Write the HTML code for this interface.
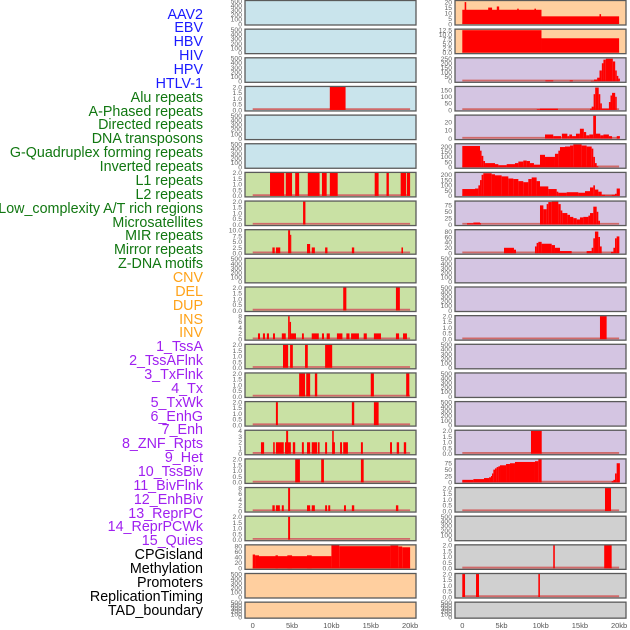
<!DOCTYPE html>
<html><head><meta charset="utf-8">
<style>
html,body{margin:0;padding:0;background:#fff;width:630px;height:630px;overflow:hidden}
#labels{position:absolute;left:0;top:0;width:203px}
.lb{position:absolute;right:0;font:14.3px "Liberation Sans",sans-serif;white-space:nowrap;line-height:14px}
svg{position:absolute;left:0;top:0}
</style></head>
<body>
<div id="labels"></div>
<svg id="chart" width="630" height="630"></svg>
<script>
const labelNames = ["AAV2","EBV","HBV","HIV","HPV","HTLV-1","Alu repeats","A-Phased repeats","Directed repeats","DNA transposons","G-Quadruplex forming repeats","Inverted repeats","L1 repeats","L2 repeats","Low_complexity A/T rich regions","Microsatellites","MIR repeats","Mirror repeats","Z-DNA motifs","CNV","DEL","DUP","INS","INV","1_TssA","2_TssAFlnk","3_TxFlnk","4_Tx","5_TxWk","6_EnhG","7_Enh","8_ZNF_Rpts","9_Het","10_TssBiv","11_BivFlnk","12_EnhBiv","13_ReprPC","14_ReprPCWk","15_Quies","CPGisland","Methylation","Promoters","ReplicationTiming","TAD_boundary"];
const labelGroups = [0,0,0,0,0,0,1,1,1,1,1,1,1,1,1,1,1,1,1,2,2,2,2,2,3,3,3,3,3,3,3,3,3,3,3,3,3,3,3,4,4,4,4,4];
const groupColors = ["#1a1aff","#117711","#ffa31a","#a020f0","#000000"];
const xTicks = [0,5,10,15,20];
const xTickLabels = ["0","5kb","10kb","15kb","20kb"];
const emptyTicks = [0,100,200,300,400,500];
const ticks2 = [0,0.5,1,1.5,2];

const l3Bars = [[9.8,11.8,2]];
const l6Bars = [[2.2,4.0,2],[4.2,5.0,2],[5.4,5.9,2],[7.0,8.5,2],[8.8,9.4,2],[9.8,10.8,2],[15.5,16.0,2],[17.0,17.3,2],[18.8,19.5,2],[19.6,20.0,2]];
const l7Bars = [[6.4,6.7,2]];
const l8Bars = [[2.5,2.8,2.5],[2.95,3.5,2.5],[4.5,4.75,10],[4.75,4.9,8],[6.9,7.3,4],[7.5,7.9,2.5],[9.2,9.5,2.5],[12.6,12.9,2.5],[18.9,19.1,2.5]];
const l10Bars = [[11.5,11.9,2],[18.2,18.7,2]];
const l11Bars = [[0.67,0.93,2],[1.3,1.56,2],[1.8,2.07,2],[2.58,2.83,2],[3.7,4.2,2],[4.5,4.7,8],[4.7,4.87,6],[4.87,5.5,2],[6.26,6.5,2],[7.5,8.4,2],[8.8,9.06,2],[9.4,9.8,2],[10.7,11.4,2],[11.9,12.3,2],[12.5,13.5,2],[14.1,14.5,2],[15.4,16.3,2],[18.2,18.6,2],[19.1,19.6,2]];
const l12Bars = [[3.85,4.5,2],[4.75,5.1,2],[6.65,7.0,2],[9.2,10.1,2]];
const l13Bars = [[5.9,6.65,2],[6.8,7.3,2],[7.9,8.2,2],[15.0,15.4,2],[19.5,19.9,2]];
const l14Bars = [[2.95,3.2,2],[12.6,12.9,2],[15.4,16.0,2]];
const l15Bars = [[1.05,1.45,2],[2.6,2.8,2],[2.95,3.95,2],[4.1,4.85,2],[4.25,4.5,4],[5.1,5.4,2],[6.25,6.5,2],[6.9,7.3,2],[7.5,8.2,2],[8.3,8.5,2],[9.2,9.45,2],[10.1,10.45,2],[10.1,10.3,4],[11.1,11.35,2],[11.5,12.1,2],[13.75,14.0,2],[17.45,17.7,2],[18.3,18.6,2],[19.2,19.5,2]];
const l16Bars = [[5.4,6.0,2],[8.7,9.05,2],[13.75,14.1,2]];
const l17Bars = [[2.5,2.8,2],[2.95,3.45,2],[3.7,3.95,2],[4.5,4.75,8],[6.9,7.3,2],[7.5,7.9,2],[9.2,9.45,2],[9.6,9.85,2],[11.6,11.85,2],[12.6,12.9,2],[18.2,18.5,2]];
const l18Bars = [[4.5,4.75,2]];
const l19Bars = [[0,0.3,50],[0.3,0.8,47],[0.8,10,44],[2.9,3.2,47],[4.4,5.0,47],[6.9,7.5,47],[10,11,83],[11,17.5,80],[17.5,18.5,82],[18.5,19,79],[19,20,76]];

const r0Bars = [[0,10.1,13],[0.3,0.5,20],[3.3,3.8,15],[4.4,4.7,16],[7.0,7.2,14],[9.2,9.4,14],[10.1,20,7],[17.5,17.7,9]];
const r1Bars = [[0,10.1,12.5],[10.1,20,8]];
const r2Bars = [[10.6,11.6,10],[13.7,14.1,10],[16.4,16.8,5],[16.8,17.2,20],[17.2,17.5,40],[17.5,17.8,120],[17.8,18.0,200],[18.0,18.3,240],[18.3,19.2,250],[19.2,19.5,220],[19.5,19.7,120],[19.7,19.9,60],[19.9,20.1,30]];
const r3Bars = [[9.5,9.9,5],[9.9,12.2,10],[16.3,16.5,10],[16.5,16.75,25],[16.75,16.95,120],[16.95,17.4,170],[17.4,17.6,120],[17.6,17.8,50],[17.8,18.7,10],[18.7,18.9,60],[18.9,19.1,110],[19.1,19.5,130],[19.5,19.7,100]];
const r4Bars = [[10.55,11.6,5],[11.6,12.6,3],[12.7,13.4,6],[13.4,13.65,3],[13.65,14.0,5],[14.0,14.5,3],[14.5,15.0,6],[15.0,15.5,12],[15.5,15.8,8],[15.8,16.2,4],[16.2,16.7,5],[16.7,17.05,28],[17.05,17.6,6],[17.6,18.0,4],[18.0,18.7,5],[18.7,19.1,3],[19.7,20.1,3]];
const r5Bars = [[0,2.26,205],[2.26,2.46,160],[2.46,2.68,110],[2.68,2.9,60],[2.9,4.17,40],[4.17,4.6,30],[4.6,5.66,20],[5.66,6.72,30],[6.72,7.15,40],[7.15,7.78,55],[7.78,8.21,65],[8.21,8.63,60],[8.63,9.14,40],[9.14,9.91,25],[9.91,10.55,120],[10.55,11.82,100],[11.82,12.25,130],[12.25,12.46,160],[12.46,13.1,195],[13.1,13.74,200],[13.74,14.16,210],[14.16,15.22,220],[15.22,15.86,210],[15.86,16.5,200],[16.5,16.71,180],[16.71,16.92,100],[16.92,17.14,40],[17.14,17.35,10]];
const r6Bars = [[0,1.62,65],[1.62,2.05,70],[2.05,2.26,100],[2.26,2.46,150],[2.46,2.68,200],[2.68,3.74,215],[3.74,4.17,205],[4.17,5.02,195],[5.02,5.87,185],[5.87,6.51,165],[6.51,7.15,160],[7.15,7.78,140],[7.78,8.42,130],[8.42,8.85,160],[8.85,9.48,175],[9.48,9.91,140],[9.91,10.97,90],[10.97,12.04,65],[12.04,12.25,40],[12.25,13.31,30],[13.31,14.8,35],[14.8,15.65,30],[15.65,16.29,45],[16.29,16.71,80],[16.71,16.92,100],[16.92,17.35,60],[17.35,17.78,40],[17.78,18.2,10],[18.2,19.05,5],[19.05,19.48,10],[19.48,19.69,20],[19.69,20.1,70]];
const r7Bars = [[0.6,1.41,5],[1.41,2.26,8],[2.26,2.34,5],[9.91,10.34,75],[10.34,10.76,60],[10.76,10.97,80],[10.97,11.4,88],[11.4,12.25,90],[12.25,12.55,80],[12.55,12.76,55],[12.76,13.4,45],[13.4,13.74,38],[13.74,14.16,30],[14.16,14.59,25],[14.59,15.01,20],[15.01,15.44,28],[15.44,16.08,30],[16.08,16.29,35],[16.29,16.71,45],[16.71,17.14,70],[17.14,17.35,50],[17.35,17.56,15]];
const r8Bars = [[5.32,6.59,20],[6.59,6.85,13],[9.27,9.48,25],[9.48,9.7,38],[9.7,10.12,42],[10.12,11.4,35],[11.4,11.82,30],[11.82,12.46,20],[12.46,13.95,8],[15.86,16.5,8],[16.5,16.71,20],[16.71,16.92,55],[16.92,17.35,80],[17.35,17.56,60],[17.56,17.78,25],[18.97,19.27,5],[19.27,19.48,20],[19.48,19.69,55],[19.69,20.03,62]];
const r11Bars = [[17.56,18.41,2]];
const r15Bars = [[8.76,10.13,2]];
const r16Bars = [[0,1.41,10],[1.41,2.77,13],[2.77,3.41,17],[3.41,3.66,20],[3.66,3.79,25],[3.79,3.96,35],[3.96,4.17,50],[4.17,4.38,55],[4.38,4.6,60],[4.6,4.81,63],[4.81,5.58,67],[5.58,6.08,72],[6.08,6.72,75],[6.72,9.27,80],[9.27,9.7,83],[9.7,10.12,90],[19.05,19.27,5],[19.27,19.48,10],[19.48,19.69,35],[19.69,20.1,75]];
const r17Bars = [[18.2,18.97,2]];
const r19Bars = [[11.6,11.8,2],[18.1,19.05,2]];
const r20Bars = [[0,0.35,2],[1.75,2.13,2],[9.7,9.9,2]];

const blue="#c9e4ec", green="#c9e1a4", peach="#ffcf9f", lav="#d4c5e2", grey="#d0d0d0";
const panels = [
 [0,0,blue,500,emptyTicks,null],[0,1,blue,500,emptyTicks,null],[0,2,blue,500,emptyTicks,null],
 [0,3,blue,2,ticks2,l3Bars],[0,4,blue,500,emptyTicks,null],[0,5,blue,500,emptyTicks,null],
 [0,6,green,2,ticks2,l6Bars],[0,7,green,2,ticks2,l7Bars],[0,8,green,10,[0,2.5,5,7.5,10],l8Bars],
 [0,9,green,500,emptyTicks,null],[0,10,green,2,ticks2,l10Bars],[0,11,green,8,[0,2,4,6,8],l11Bars],
 [0,12,green,2,ticks2,l12Bars],[0,13,green,2,ticks2,l13Bars],[0,14,green,2,ticks2,l14Bars],
 [0,15,green,4,[0,1,2,3,4],l15Bars],[0,16,green,2,ticks2,l16Bars],[0,17,green,8,[0,2,4,6,8],l17Bars],
 [0,18,green,2,ticks2,l18Bars],[0,19,peach,83,[0,20,40,60,80],l19Bars],[0,20,peach,500,emptyTicks,null],[0,21,peach,500,emptyTicks,null],
 [1,0,peach,21,[0,5,10,15,20],r0Bars],[1,1,peach,12.8,[0,2.5,5,7.5,10,12.5],r1Bars],[1,2,lav,255,[0,50,100,150,200,250],r2Bars],
 [1,3,lav,175,[0,50,100,150],r3Bars],[1,4,lav,28,[0,10,20],r4Bars],[1,5,lav,222,[0,50,100,150,200],r5Bars],
 [1,6,lav,218,[0,50,100,150,200],r6Bars],[1,7,lav,90,[0,25,50,75],r7Bars],[1,8,lav,85,[0,20,40,60,80],r8Bars],
 [1,9,lav,500,emptyTicks,null],[1,10,lav,500,emptyTicks,null],[1,11,lav,2,ticks2,r11Bars],
 [1,12,lav,500,emptyTicks,null],[1,13,lav,500,emptyTicks,null],[1,14,lav,500,emptyTicks,null],
 [1,15,lav,2,ticks2,r15Bars],[1,16,lav,90,[0,25,50,75],r16Bars],[1,17,grey,2,ticks2,r17Bars],
 [1,18,grey,500,emptyTicks,null],[1,19,grey,2,ticks2,r19Bars],[1,20,grey,2,ticks2,r20Bars],[1,21,grey,500,emptyTicks,null]
];

const lbBox = document.getElementById('labels');
labelNames.forEach((t,i)=>{
  const d=document.createElement('div');
  d.className='lb';
  
  
  d.style.top=(7.6+13.86*i)+'px';
  d.style.color=groupColors[labelGroups[i]];
  d.textContent=t;
  lbBox.appendChild(d);
});

const NS="http://www.w3.org/2000/svg";
const svg=document.getElementById('chart');
function mk(tag,attrs,parent){const e=document.createElementNS(NS,tag);for(const k in attrs)e.setAttribute(k,attrs[k]);(parent||svg).appendChild(e);return e;}
const colLeft=[245,455], colW=171;
const x0px=[252.7,462.3], pxPerKb=[7.87,7.84];
function xScale(c,kb){return x0px[c]+pxPerKb[c]*kb;}
function rowTop(r){return 0.5+28.65*r;}
function rowH(r){return r===21?16:24.5;}

panels.forEach(p=>{
  const [c,r,fill,ymax,ticks,bars]=p;
  const top=rowTop(r), h=rowH(r), left=colLeft[c];
  const g=mk('g',{});
  
  
  mk('rect',{x:left,y:top,width:colW,height:h,fill:fill},g);
  const y0=top+h-1, yTop=top+0.5;
  const yScale=v=>y0-(v/ymax)*(y0-yTop);
  if(bars){
    const bl=mk('line',{x1:xScale(c,0),x2:xScale(c,20),y1:y0-0.8,y2:y0-0.8,stroke:"#d06a6a","stroke-width":1.8},g);
    
    
    bars.forEach(b=>{
      const xa=xScale(c,b[0]), xb=xScale(c,b[1]), yv=yScale(b[2]);
      const rc=mk('rect',{x:xa,y:yv,width:Math.max(1,xb-xa),height:Math.max(0,y0-yv),fill:"#ff0000"},g);
      
      
    });
  }
  mk('rect',{x:left,y:top,width:colW,height:h,fill:"none",stroke:"#5a5a5a","stroke-width":1.3},g);
  ticks.forEach(t=>{
    const tx=mk('text',{x:left-3,y:yScale(t)+2.3,"text-anchor":"end","font-size":"6.8","font-family":"Liberation Sans, sans-serif",fill:"#666"},g);
    
    
    let s=String(t);
    if(ymax===2) s=t.toFixed(1);
    if(ymax===10||ymax===12.8) s=Number.isInteger(t)?t.toFixed(1):String(t);
    tx.textContent=s;
  });
});

[0,1].forEach(c=>{
  xTicks.forEach((t,i)=>{
    const tx=mk('text',{x:xScale(c,t),y:628,"text-anchor":"middle","font-size":"7.5","font-family":"Liberation Sans, sans-serif",fill:"#555"});
    
    
    tx.textContent=xTickLabels[i];
  });
});
</script>
</body></html>
